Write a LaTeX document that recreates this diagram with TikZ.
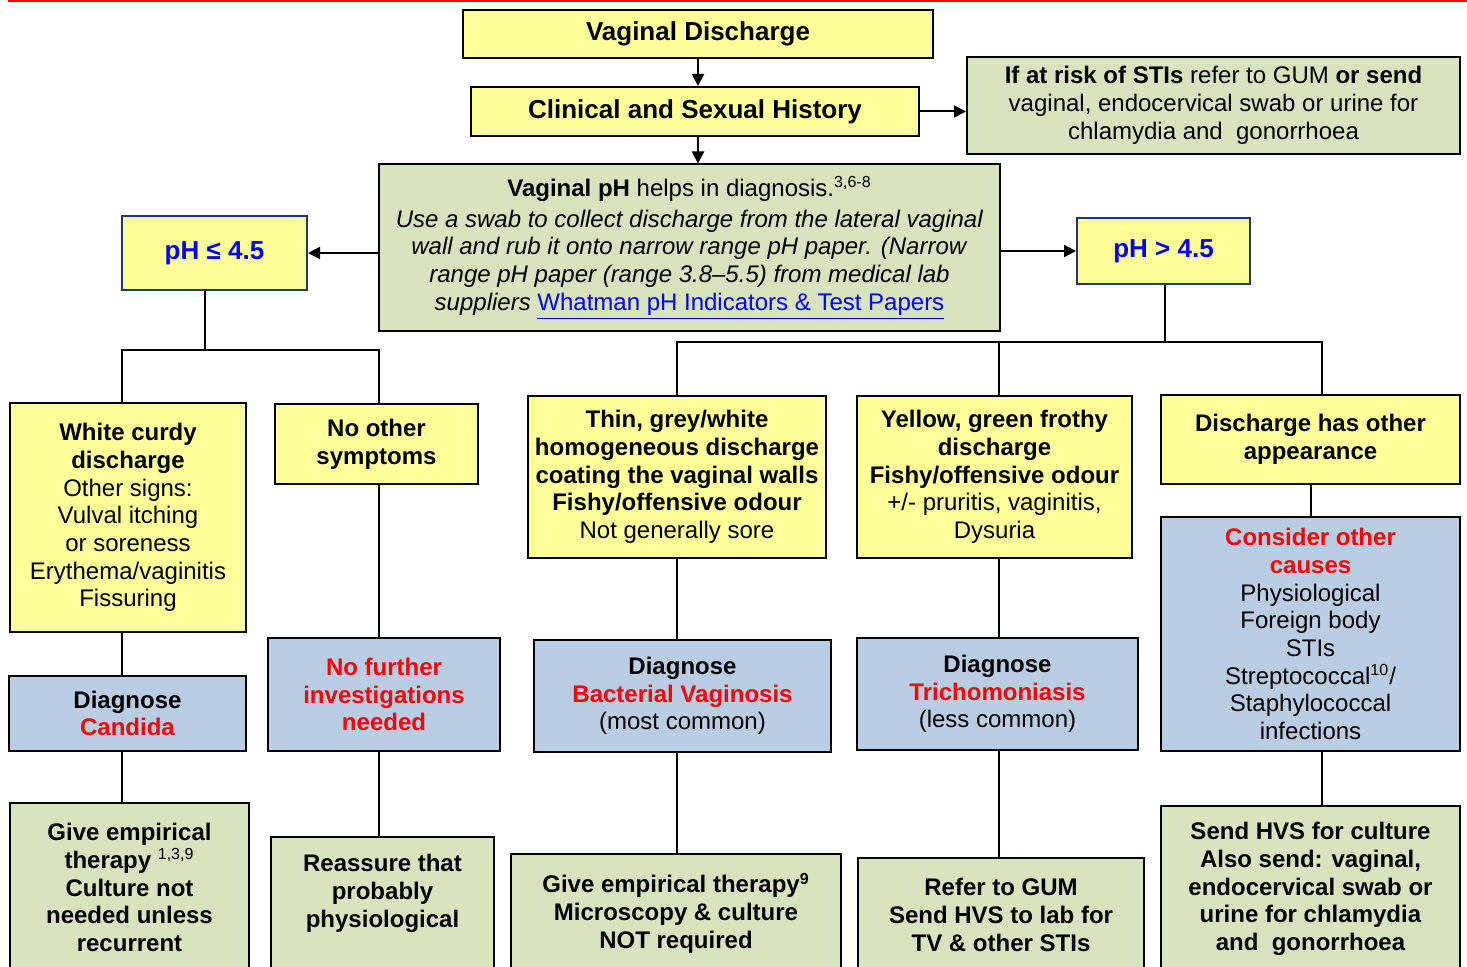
\documentclass[tikz,border=0pt]{standalone}
\usepackage{fontspec}
\setmainfont{Liberation Sans}
\usetikzlibrary{arrows.meta}

\definecolor{boxyellow}{HTML}{FFFF99}
\definecolor{boxgreen}{HTML}{D7E4BD}
\definecolor{boxblue}{HTML}{B9CDE5}
\definecolor{phborder}{HTML}{1F3870}
\definecolor{phblue}{HTML}{0000FF}
\definecolor{warnred}{HTML}{FF0000}

\newcommand{\bodyfont}{\fontsize{12}{13.85}\selectfont}
\newcommand{\headfont}{\fontsize{13}{14}\selectfont\bfseries}
\newcommand{\red}[1]{\textcolor{warnred}{\textbf{#1}}}

\tikzset{
  box/.style={draw, line width=1pt, inner sep=0pt, align=center, font=\bodyfont},
  yellowbox/.style={box, fill=boxyellow},
  greenbox/.style={box, fill=boxgreen},
  bluebox/.style={box, fill=boxblue},
  phlevel/.style={yellowbox, draw=phborder, text=phblue, font=\headfont},
  line/.style={line width=1pt},
  arrow/.style={line, -{Triangle[length=6pt,width=6pt]}}
}

\begin{document}
\begin{tikzpicture}[x=0.5pt,y=-0.5pt]
\useasboundingbox (0,0) rectangle (1467,967);
\clip (0,0) rectangle (1467,967);
\draw[warnred, line width=1.5pt] (8,1) -- (1467,1);

% top of the chart
\node[yellowbox, font=\headfont, minimum width=235pt, minimum height=24pt] (vd) at (698,34) {Vaginal Discharge};
\node[yellowbox, font=\headfont, minimum width=224pt, minimum height=24.5pt] (csh) at (695,111.5) {Clinical and Sexual History};
\node[greenbox, minimum width=246.5pt, minimum height=48.5pt] (sti) at (1213.5,105.5)
  {\textbf{If at risk of STIs} refer to GUM \textbf{or send}\\
   vaginal, endocervical swab or urine for\\
   chlamydia and\ \ gonorrhoea};
\node[greenbox, minimum width=310.5pt, minimum height=83.5pt] (ph) at (689.5,248)
  {\textbf{Vaginal pH} helps in diagnosis.\textsuperscript{3,6-8}\\[1.5pt]
   \textit{Use a swab to collect discharge from the lateral vaginal}\\
   \textit{wall and rub it onto narrow range pH paper. (Narrow}\\
   \textit{range pH paper (range 3.8--5.5) from medical lab}\\
   \textit{suppliers} \textcolor{phblue}{\underline{Whatman pH Indicators \& Test Papers}}};
\node[phlevel, minimum width=92.5pt, minimum height=37pt] (phle) at (214.5,253) {pH ≤ 4.5};
\node[phlevel, minimum width=86.5pt, minimum height=33pt] (phgt) at (1163.5,251) {pH > 4.5};

% symptoms
\node[yellowbox, minimum width=118pt, minimum height=114.5pt] (white) at (128,517.5)
  {\textbf{White curdy}\\ \textbf{discharge}\\ Other signs:\\ Vulval itching\\ or soreness\\ Erythema/vaginitis\\ Fissuring};
\node[yellowbox, minimum width=101.5pt, minimum height=40pt] (noother) at (376.5,444)
  {\textbf{No other}\\ \textbf{symptoms}};
\node[yellowbox, minimum width=149pt, minimum height=81pt] (thin) at (677,477)
  {\textbf{Thin, grey/white}\\ \textbf{homogeneous discharge}\\ \textbf{coating the vaginal walls}\\
   \textbf{Fishy/offensive odour}\\ Not generally sore};
\node[yellowbox, minimum width=137.5pt, minimum height=81pt] (yellow) at (994.5,477)
  {\textbf{Yellow, green frothy}\\ \textbf{discharge}\\ \textbf{Fishy/offensive odour}\\
   +/- pruritis, vaginitis,\\ Dysuria};
\node[yellowbox, minimum width=149.5pt, minimum height=44.5pt] (other) at (1310.5,439.5)
  {\textbf{Discharge has other}\\ \textbf{appearance}};

% diagnoses
\node[bluebox, minimum width=118.5pt, minimum height=37.5pt] (candida) at (127.5,713.5)
  {\textbf{Diagnose}\\ \red{Candida}};
\node[bluebox, minimum width=116pt, minimum height=56.5pt] (nofurther) at (384,694.5)
  {\red{No further}\\ \red{investigations}\\ \red{needed}};
\node[bluebox, minimum width=148.5pt, minimum height=56pt] (bv) at (682.5,696)
  {\textbf{Diagnose}\\ \red{Bacterial Vaginosis}\\ (most common)};
\node[bluebox, minimum width=140.5pt, minimum height=56pt] (tricho) at (997.5,694)
  {\textbf{Diagnose}\\ \red{Trichomoniasis}\\ (less common)};
\node[bluebox, minimum width=149.5pt, minimum height=117pt] (consider) at (1310.5,634)
  {\red{Consider other}\\ \red{causes}\\ Physiological\\ Foreign body\\ STIs\\
   Streptococcal\textsuperscript{10}/\\ Staphylococcal\\ infections};

% actions
\node[greenbox, minimum width=119.5pt, minimum height=84.5pt] (give1) at (129.5,887.5)
  {\textbf{Give empirical}\\ \textbf{therapy} \textsuperscript{1,3,9}\\ \textbf{Culture not}\\
   \textbf{needed unless}\\ \textbf{recurrent}};
\node[greenbox, minimum width=111.5pt, minimum height=67.5pt] (reassure) at (382.5,904.5)
  {\textbf{Reassure that}\\ \textbf{probably}\\ \textbf{physiological}\\ \mbox{}};
\node[greenbox, minimum width=165pt, minimum height=59pt] (give9) at (676,913)
  {\textbf{Give empirical therapy\textsuperscript{9}}\\ \textbf{Microscopy \& culture}\\ \textbf{NOT required}};
\node[greenbox, minimum width=143pt, minimum height=57pt] (refer) at (1001,915)
  {\textbf{Refer to GUM}\\ \textbf{Send HVS to lab for}\\ \textbf{TV \& other STIs}};
\node[greenbox, minimum width=149.5pt, minimum height=83pt] (send) at (1310.5,889)
  {\textbf{Send HVS for culture}\\ \textbf{Also send: vaginal,}\\ \textbf{endocervical swab or}\\
   \textbf{urine for chlamydia}\\ \textbf{and\ \ gonorrhoea}};

% columns and junctions
\coordinate (cA) at (122,0);
\coordinate (cB) at (379,0);
\coordinate (cC) at (677,0);
\coordinate (cD) at (999,0);
\coordinate (cE) at (1322,0);
\coordinate (jl) at (205,350);
\coordinate (jr) at (1165,342);

\draw[arrow] (vd.south) -- (vd.south |- csh.north);
\draw[arrow] (csh.south -| vd.south) -- (ph.north -| vd.south);
\draw[arrow] (csh.east) -- (sti.west |- csh.east);
\draw[arrow] (ph.west |- phle.east) -- (phle.east);
\draw[arrow] (ph.east |- phgt.west) -- (phgt.west);

\draw[line] (phle.south -| jl) -- (jl);
\draw[line] (white.north -| cA) |- (jl) -| (noother.north -| cB);
\draw[line] (phgt.south -| jr) -- (jr);
\draw[line] (thin.north -| cC) |- (jr) -| (other.north -| cE);
\draw[line] (yellow.north -| cD) -- (cD |- jr);

\draw[line] (white.south -| cA) -- (candida.north -| cA);
\draw[line] (noother.south -| cB) -- (nofurther.north -| cB);
\draw[line] (thin.south -| cC) -- (bv.north -| cC);
\draw[line] (yellow.south -| cD) -- (tricho.north -| cD);
\draw[line] (other.south) -- (consider.north -| other.south);

\draw[line] (candida.south -| cA) -- (give1.north -| cA);
\draw[line] (nofurther.south -| cB) -- (reassure.north -| cB);
\draw[line] (bv.south -| cC) -- (give9.north -| cC);
\draw[line] (tricho.south -| cD) -- (refer.north -| cD);
\draw[line] (consider.south -| cE) -- (send.north -| cE);
\end{tikzpicture}
\end{document}
